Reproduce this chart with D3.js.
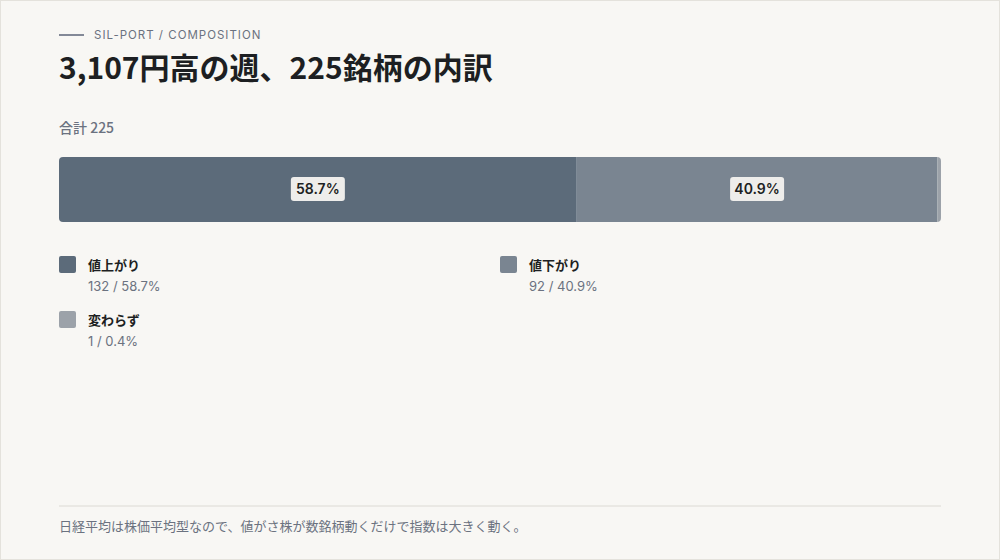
<!DOCTYPE html>
<html><head><meta charset="utf-8">
<script src="https://cdn.jsdelivr.net/npm/d3@7"></script>
<style>
body{margin:0;background:#f8f7f4;font-family:"Noto Sans CJK JP","Inter",sans-serif;}
svg{display:block}
</style></head>
<body><svg id="chart" width="1000" height="560"></svg>
<script>
var categories = ["値上がり", "値下がり", "変わらず"];
var counts = [132, 92, 1];
var shares = [58.7, 40.9, 0.4];
var colors = ["#5c6b7a", "#7a8591", "#9ca2a9"];
var total = 225;

var svg = d3.select("#chart");
var font = "'Noto Sans CJK JP', sans-serif";
svg.append("rect").attr("x", 0.5).attr("y", 0.5).attr("width", 999).attr("height", 559)
    .attr("fill", "#f8f7f4").attr("stroke", "#e4e2dc");

svg.append("line").attr("x1", 59).attr("x2", 84).attr("y1", 35).attr("y2", 35)
    .attr("stroke", "#5c6478").attr("stroke-width", 1.5);
svg.append("text").attr("x", 94).attr("y", 39).text("SIL-PORT / COMPOSITION")
    .style("font-family", "Inter, sans-serif").style("font-size", "11.5px")
    .style("letter-spacing", "1px").style("fill", "#6b7280");
svg.append("text").attr("x", 59).attr("y", 79).text("3,107円高の週、225銘柄の内訳")
    .style("font-family", font).style("font-size", "30px").style("font-weight", 700)
    .style("fill", "#1d1f22");
svg.append("text").attr("x", 59).attr("y", 133).text("合計 " + total)
    .style("font-family", font).style("font-size", "14px").style("font-weight", 500)
    .style("fill", "#6b7280");

var x = d3.scaleLinear().domain([0, 100]).range([59, 941]);
var starts = [];
var acc = 0;
shares.forEach(function(s) { starts.push(acc); acc += s; });

var clip = svg.append("clipPath").attr("id", "barclip");
clip.append("rect").attr("x", x(0)).attr("y", 157).attr("width", x(100) - x(0))
    .attr("height", 65).attr("rx", 4);
var bar = svg.append("g").attr("clip-path", "url(#barclip)");
bar.selectAll("rect.seg")
    .data(shares)
    .enter()
    .append("rect")
    .attr("class", "seg")
    .attr("x", function(d, i) { return x(starts[i]); })
    .attr("y", 157)
    .attr("width", function(d) { return x(d) - x(0); })
    .attr("height", 65)
    .style("fill", function(d, i) { return colors[i]; });

var labs = svg.selectAll("g.lab")
    .data(shares.filter(function(d) { return d > 5; }))
    .enter()
    .append("g")
    .attr("transform", function(d, i) {
      return "translate(" + (x(starts[i] + d / 2)) + ",189)";
    });
labs.append("rect").attr("x", -27).attr("y", -12).attr("width", 54).attr("height", 24)
    .attr("rx", 3).style("fill", "#eeedeb");
labs.append("text").attr("y", 5).attr("text-anchor", "middle")
    .text(function(d) { return d.toFixed(1) + "%"; })
    .style("font-family", "Inter, sans-serif").style("font-size", "14px")
    .style("font-weight", 600).style("fill", "#1d1f22");

var legend = svg.selectAll("g.leg")
    .data(categories)
    .enter()
    .append("g")
    .attr("transform", function(d, i) {
      return "translate(" + (i == 1 ? 500 : 59) + "," + (i == 2 ? 311 : 256) + ")";
    });
legend.append("rect").attr("width", 17).attr("height", 17).attr("rx", 2)
    .style("fill", function(d, i) { return colors[i]; });
legend.append("text").attr("x", 29).attr("y", 14).text(function(d) { return d; })
    .style("font-family", font).style("font-size", "13px").style("font-weight", 700)
    .style("fill", "#1d1f22");
legend.append("text").attr("x", 29).attr("y", 35)
    .text(function(d, i) { return counts[i] + " / " + shares[i].toFixed(1) + "%"; })
    .style("font-family", "Inter, sans-serif").style("font-size", "13px")
    .style("fill", "#6b7280");

svg.append("line").attr("x1", 59).attr("x2", 941).attr("y1", 506).attr("y2", 506)
    .attr("stroke", "#dcdad4");
svg.append("text").attr("x", 59).attr("y", 531)
    .text("日経平均は株価平均型なので、値がさ株が数銘柄動くだけで指数は大きく動く。")
    .style("font-family", font).style("font-size", "13px").style("fill", "#6b7280");
</script></body></html>
